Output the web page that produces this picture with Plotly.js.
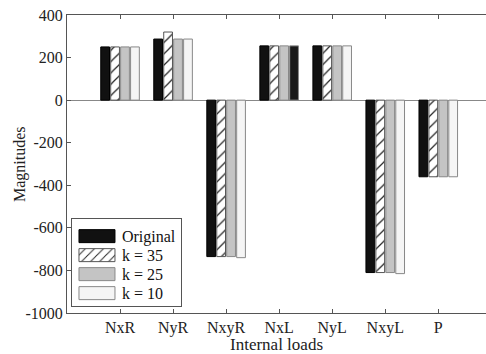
<!DOCTYPE html>
<html>
<head>
<meta charset="utf-8">
<script src="https://cdn.plot.ly/plotly-3.0.1.min.js"></script>
<style>html,body{margin:0;padding:0;background:#fff;}#chart{width:486px;height:354px;}</style>
</head>
<body>
<div id="chart"></div>
<script>
const categories = ["NxR", "NyR", "NxyR", "NxL", "NyL", "NxyL", "P"];
const original = [250, 287, -735, 255, 255, -810, -360];
const k35 = [250, 320, -735, 255, 255, -810, -360];
const k25 = [250, 287, -735, 255, 255, -810, -360];
const k10 = [250, 287, -740, 255, 255, -815, -360];
const yTicks = [400, 200, 0, -200, -400, -600, -800, -1000];

const font = "Liberation Serif, Times New Roman, serif";
const traces = [
  {type: "bar", name: "Original", x: categories, y: original,
   marker: {color: "#111111", line: {color: "#000000", width: 1}}},
  {type: "bar", name: "k = 35", x: categories, y: k35,
   marker: {color: "#ffffff", line: {color: "#555555", width: 1},
            pattern: {shape: "/", fgcolor: "#222222", bgcolor: "#ffffff", size: 8, solidity: 0.15}}},
  {type: "bar", name: "k = 25", x: categories, y: k25,
   marker: {color: "#c4c4c4", line: {color: "#888888", width: 1}}},
  {type: "bar", name: "k = 10", x: categories, y: k10,
   marker: {color: categories.map(c => c === "NxL" ? "#1a1a1a" : "#f5f5f5"), line: {color: "#888888", width: 1}}}
];

const layout = {
  width: 486, height: 354,
  margin: {l: 67, r: 0, t: 15, b: 41},
  paper_bgcolor: "#ffffff", plot_bgcolor: "#ffffff",
  font: {family: font, size: 16, color: "#222"},
  barmode: "group", bargap: 0.25, bargroupgap: 0.12,
  showlegend: true,
  legend: {x: 0.0095, y: 0.02, xanchor: "left", yanchor: "bottom",
           bgcolor: "#ffffff", bordercolor: "#555", borderwidth: 1,
           font: {family: font, size: 16, color: "#111"}, tracegroupgap: 0, itemwidth: 40},
  xaxis: {type: "category", range: [-1, 6.9], showline: true, linecolor: "#555", linewidth: 1,
          mirror: "ticks", ticks: "inside", ticklen: 4, tickcolor: "#555",
          showgrid: false, zeroline: false,
          tickfont: {family: font, size: 16, color: "#222"},
          title: {text: "Internal loads", font: {family: font, size: 17, color: "#222"}, standoff: 2}},
  yaxis: {range: [-1000, 400], tickvals: yTicks, ticktext: yTicks.map(String),
          showline: true, linecolor: "#555", linewidth: 1, mirror: false,
          ticks: "inside", ticklen: 4, tickcolor: "#555",
          showgrid: false, zeroline: true, zerolinecolor: "#888", zerolinewidth: 1,
          tickfont: {family: font, size: 16, color: "#222"}},
  annotations: [{text: "Magnitudes", xref: "paper", yref: "paper", x: -0.112, y: 0.5,
                 xanchor: "center", yanchor: "middle", textangle: -90, showarrow: false,
                 font: {family: font, size: 16, color: "#222"}}]
};

function parseT(el) {
  const m = /translate\(\s*([-\d.e]+)[ ,]+([-\d.e]+)\s*\)/.exec(el.getAttribute("transform") || "");
  return m ? [parseFloat(m[1]), parseFloat(m[2])] : [0, 0];
}
let tightened = false;
function tweakLegend() {
  // widen the legend swatches to match the reference's wide boxes
  document.querySelectorAll("#chart .legend .legendpoints path").forEach(function (p) {
    p.setAttribute("d", "M18,6.5H-18V-6.5H18Z");
  });
  if (tightened) return;
  // tighten the row spacing of the legend entries
  const items = Array.from(document.querySelectorAll("#chart .legend g.traces"));
  if (items.length < 2) return;
  const pos = items.map(parseT);
  const oldStep = pos[1][1] - pos[0][1];
  const step = 19;
  if (!(oldStep > step)) return;
  items.forEach(function (it, i) {
    it.setAttribute("transform", "translate(" + pos[i][0] + "," + (pos[0][1] + i * step) + ")");
  });
  const shrink = (oldStep - step) * items.length;
  const leg = document.querySelector("#chart g.legend");
  const bg = leg.querySelector("rect.bg");
  if (bg) bg.setAttribute("height", parseFloat(bg.getAttribute("height")) - shrink);
  const lp = parseT(leg);
  leg.setAttribute("transform", "translate(" + lp[0] + "," + (lp[1] + shrink) + ")");
  tightened = true;
}
Plotly.newPlot("chart", traces, layout, {displayModeBar: false, staticPlot: true}).then(function () {
  tweakLegend();
  setTimeout(tweakLegend, 50);
});
</script>
</body>
</html>
